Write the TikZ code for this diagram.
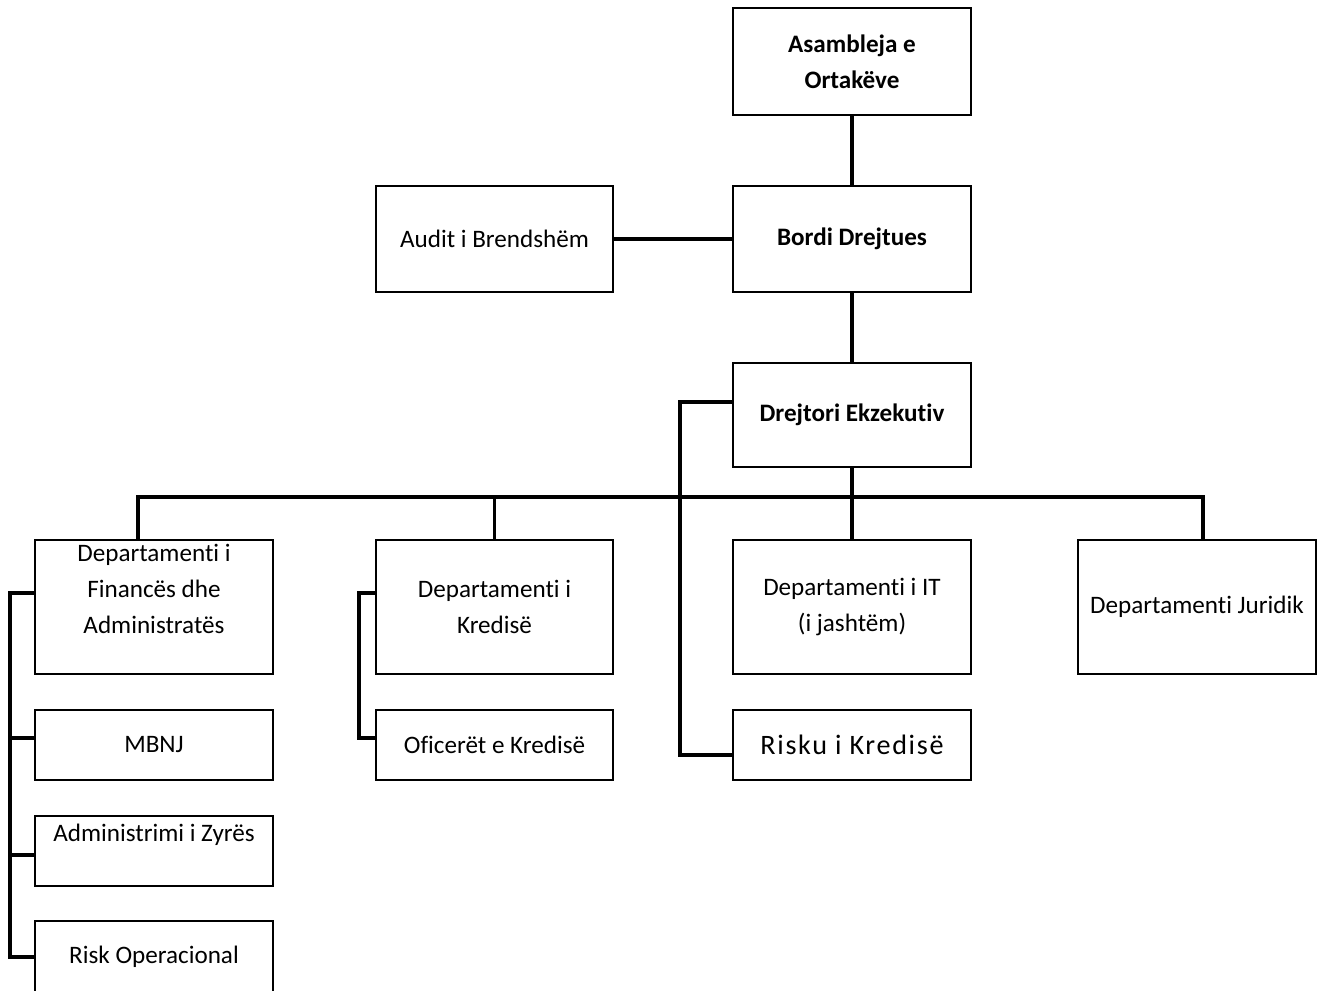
\documentclass[tikz,border=0pt]{standalone}
\usepackage{fontspec}
\setmainfont{Carlito}[Ligatures=NoCommon]
\usepackage{tikz}
\usetikzlibrary{calc}
\tikzset{
  box/.style={draw,line width=1.6pt,inner sep=0pt,align=center,minimum width=4.76cm,
    font=\fontsize{14.3}{20.5}\selectfont},
  tall/.style={box,minimum height=2.68cm},
  mid/.style={box,minimum height=2.12cm},
  small/.style={box,minimum height=1.4cm},
  conn/.style={line width=1.9pt}
}

\begin{document}
\begin{tikzpicture}[x=0.02cm,y=-0.02cm,>=stealth]
              \useasboundingbox (0,0) rectangle (1321,990);
              \node[mid,minimum height=2.14cm] (As1) at (852,61.5) {\bfseries Asambleja e\\\bfseries Ortakëve};
              \node[mid] (Bo1) at (852,239) {\bfseries Bordi Drejtues};
              \node[mid,minimum width=4.74cm] (Au1) at (494.5,239) {Audit i Brendshëm};
              \node[mid,minimum height=2.08cm] (Dr1) at (852,415) {\bfseries Drejtori Ekzekutiv};
              \node[tall] (Fi1) at (154,607) {Departamenti i\\Financës dhe\\Administratës\\~};
              \node[tall,minimum width=4.74cm] (Kr1) at (494.5,607) {Departamenti i\\Kredisë};
              \node[tall] (It1) at (852,607) {Departamenti i IT\\(i jashtëm)};
              \node[tall] (Ju1) at (1197,607) {Departamenti Juridik};
              \node[small] (Mb1) at (154,745) {MBNJ};
              \node[small,minimum width=4.74cm] (Of1) at (494.5,745) {Oficerët e Kredisë};
              \node[small,font=\fontsize{16}{19}\selectfont\addfontfeatures{LetterSpace=6}] (Rk1) at (852,745) {Risku i Kredisë};
              \node[small] (Ad1) at (154,851) {Administrimi i Zyrës\\~};
              \node[small,minimum height=1.44cm] (Ro1) at (154,957) {Risk Operacional};
              % main line
              \draw[conn] (As1) -- (Bo1);
              \draw[conn] (Au1) -- (Bo1);
              \draw[conn] (Bo1) -- (Dr1);
              \coordinate (B1) at (138,497);
              \coordinate (B2) at (1203,497);
              \draw[conn] (Fi1.north -| B1) -- (B1) -- (B2) -- (Ju1.north -| B2);
              \draw[conn] (Kr1.north) -- (Kr1.north |- B1);
              \draw[conn] (Dr1) -- (It1);
              % side brackets
              \coordinate (L1) at (10,0);
              \coordinate (L2) at (359,0);
              \coordinate (L3) at (680,0);
              \draw[conn] ([yshift=0.28cm]Fi1.west) -- ([yshift=0.28cm]Fi1.west -| L1) |- (Ro1.west);
              \draw[conn] ([yshift=0.14cm]Mb1.west) -- ([yshift=0.14cm]Mb1.west -| L1);
              \draw[conn] ([yshift=-0.08cm]Ad1.west) -- ([yshift=-0.08cm]Ad1.west -| L1);
              \draw[conn] ([yshift=0.28cm]Kr1.west) -- ([yshift=0.28cm]Kr1.west -| L2) |- ([yshift=0.14cm]Of1.west);
              \draw[conn] ([yshift=0.26cm]Dr1.west) -- ([yshift=0.26cm]Dr1.west -| L3) |- ([yshift=-0.2cm]Rk1.west);
          \end{tikzpicture}
\end{document}
